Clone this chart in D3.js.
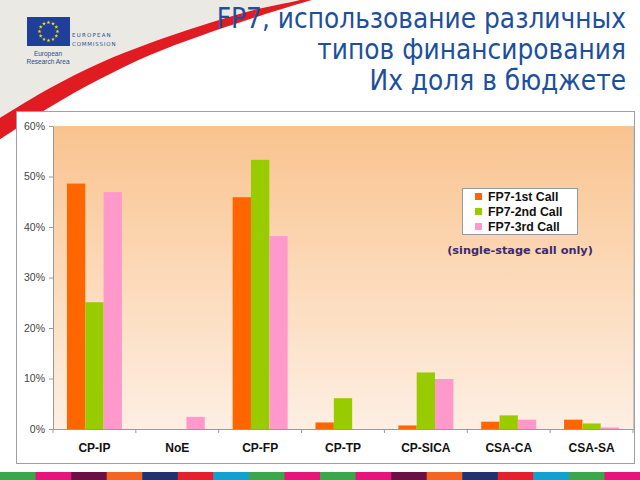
<!DOCTYPE html>
<html><head><meta charset="utf-8">
<script src="https://cdn.jsdelivr.net/npm/d3@7"></script>
<style>body{margin:0;background:#fff}svg{display:block}</style>
</head><body>
<script>
const categories = ["CP-IP","NoE","CP-FP","CP-TP","CP-SICA","CSA-CA","CSA-SA"];
const seriesNames = ["FP7-1st Call","FP7-2nd Call","FP7-3rd Call"];
const call1 = [48.6, 0, 45.9, 1.3, 0.7, 1.45, 1.85];
const call2 = [25.1, 0, 53.3, 6.1, 11.2, 2.7, 1.1];
const call3 = [46.9, 2.4, 38.2, 0, 9.9, 1.85, 0.3];
const yTicks = [0,10,20,30,40,50,60];
const colors = ["#ff6600","#99cc00","#ff99cc"];
const titleLines = ["FP7, использование различных","типов финансирования","Их доля в бюджете"];
const stripColors = ["#3aa84a","#e5157a","#6b1045","#f26522","#23316f","#e5202e","#13a0d0","#3aa84a","#e5157a","#3aa84a","#e5157a","#6b1045","#f26522","#23316f","#e5202e","#13a0d0","#3aa84a","#e5157a"];

const W=640,H=480;
const svg=d3.select("body").append("svg").attr("width",W).attr("height",H);
const defs=svg.append("defs");

// background header
svg.append("rect").attr("width",W).attr("height",H).attr("fill","#fff");
const up=[[-10,124],[50,88],[100,63],[150,43],[200,26],[250,11],[300,0],[330,-8]];
const lo=[[340,-8],[305,2],[250,19],[200,36],[150,55],[100,79],[50,107],[-10,146]];
const lineGen=d3.line().curve(d3.curveCatmullRom);
svg.append("path").attr("d","M-10,-10 L330,-10 "+lineGen(up.slice().reverse()).replace("M","L")+" Z").attr("fill","#ebe9e4");
svg.append("path").attr("d",lineGen(up)+lineGen(lo).replace("M","L")+"Z").attr("fill","#e11b22");

// EU logo
const logo=svg.append("g");
logo.append("rect").attr("x",27).attr("y",17).attr("width",43).attr("height",29).attr("fill","#1f3f99");
for(let i=0;i<12;i++){const a=i*Math.PI/6;
 logo.append("path").attr("d",d3.symbol(d3.symbolStar,5)()).attr("fill","#ffdd00")
 .attr("transform",`translate(${48.5+9*Math.cos(a)},${31.5+9*Math.sin(a)})`);}
logo.append("text").attr("x",72).attr("y",37).text("EUROPEAN").attr("font-family","DejaVu Sans").attr("font-size",5.5).attr("letter-spacing",1.2).attr("fill","#2b4c8c");
logo.append("text").attr("x",72).attr("y",46).text("COMMISSION").attr("font-family","DejaVu Sans").attr("font-size",5.5).attr("letter-spacing",0.8).attr("fill","#2b4c8c");
logo.append("text").attr("x",48).attr("y",56).text("European").attr("text-anchor","middle").attr("font-family","Liberation Sans").attr("font-size",6.5).attr("fill","#2b4c8c");
logo.append("text").attr("x",48).attr("y",64).text("Research Area").attr("text-anchor","middle").attr("font-family","Liberation Sans").attr("font-size",6.5).attr("fill","#2b4c8c");

// title
svg.append("g").selectAll("text").data(titleLines).join("text")
 .attr("transform",(d,i)=>`translate(626,${28+i*31}) scale(0.86,1)`).attr("text-anchor","end")
 .attr("font-family","DejaVu Sans").attr("font-size",29).attr("fill","#1e4f9c").text(d=>d);

// frame
svg.append("rect").attr("x",16.5).attr("y",111.5).attr("width",618).attr("height",352).attr("fill","#fff").attr("stroke","#a0a0a0");

// bottom strip
const sx=d3.scaleBand().domain(d3.range(stripColors.length)).range([0,W]);
svg.append("g").selectAll("rect").data(stripColors).join("rect")
 .attr("x",(d,i)=>sx(i)).attr("width",sx.bandwidth()+0.5).attr("y",472).attr("height",8).attr("fill",d=>d);

// chart
const m={l:53,r:633,t:126,b:429};
const grad=defs.append("linearGradient").attr("id","bg").attr("x1",0).attr("y1",0).attr("x2",0).attr("y2",1);
grad.append("stop").attr("offset","0%").attr("stop-color","#f9c38f");
grad.append("stop").attr("offset","55%").attr("stop-color","#fcdcbd");
grad.append("stop").attr("offset","100%").attr("stop-color","#fdefe3");
svg.append("rect").attr("x",m.l).attr("y",m.t).attr("width",m.r-m.l).attr("height",m.b-m.t).attr("fill","url(#bg)");
svg.append("line").attr("x1",m.r+0.5).attr("x2",m.r+0.5).attr("y1",m.t).attr("y2",m.b).attr("stroke","#c8c8c8");

const x0=d3.scaleBand().domain(categories).range([m.l,m.r]);
const x1=d3.scaleBand().domain(seriesNames).range([0,x0.bandwidth()]).paddingInner(0).paddingOuter(0.76);
const y=d3.scaleLinear().domain([0,60]).range([m.b,m.t]);
const allSeries=[call1,call2,call3];

const groups=svg.append("g").selectAll("g").data(categories).join("g").attr("transform",d=>`translate(${x0(d)},0)`);
groups.selectAll("rect").data((c,ci)=>seriesNames.map((s,si)=>({s,v:allSeries[si][ci],si}))).join("rect")
 .attr("x",d=>x1(d.s)).attr("width",x1.bandwidth()).attr("y",d=>y(d.v)).attr("height",d=>m.b-y(d.v)).attr("fill",d=>colors[d.si]);

// y axis
const ya=svg.append("g").attr("transform",`translate(${m.l},0)`)
 .call(d3.axisLeft(y).tickValues(yTicks).tickFormat(d=>d+"%").tickSize(4).tickSizeOuter(0));
ya.select(".domain").attr("stroke","#999");
ya.selectAll(".tick line").attr("stroke","#999");
ya.selectAll("text").attr("font-family","Liberation Sans").attr("font-size",10.5).attr("fill","#444").attr("x",-8);

// x axis
const xa=svg.append("g").attr("transform",`translate(0,${m.b})`)
 .call(d3.axisBottom(x0).tickSize(0).tickSizeOuter(0));
xa.select(".domain").attr("stroke","#999");
xa.selectAll("text").attr("font-family","Liberation Sans").attr("font-weight","bold").attr("font-size",12).attr("fill","#111").attr("dy",0).attr("y",23);
svg.append("g").selectAll("line").data(categories.concat(["end"])).join("line")
 .attr("x1",(d,i)=>m.l+i*x0.bandwidth()).attr("x2",(d,i)=>m.l+i*x0.bandwidth())
 .attr("y1",m.b).attr("y2",m.b+4).attr("stroke","#999");

// legend
const lg=svg.append("g");
lg.append("rect").attr("x",462.5).attr("y",188.5).attr("width",115).attr("height",46).attr("fill","#fff").attr("stroke","#999");
const li=lg.selectAll("g").data(seriesNames).join("g").attr("transform",(d,i)=>`translate(475,${196.5+i*15})`);
li.append("rect").attr("x",0).attr("y",-3.5).attr("width",7).attr("height",7).attr("fill",(d,i)=>colors[i]);
li.append("text").attr("x",13).attr("y",4.5).text(d=>d).attr("font-family","Liberation Sans").attr("font-weight","bold").attr("font-size",12.3).attr("fill","#111");
svg.append("text").attr("x",520).attr("y",254).attr("text-anchor","middle").text("(single-stage call only)")
 .attr("font-family","DejaVu Sans").attr("font-weight","bold").attr("font-size",11.3).attr("fill","#3b2a6e");
</script>
</body></html>
